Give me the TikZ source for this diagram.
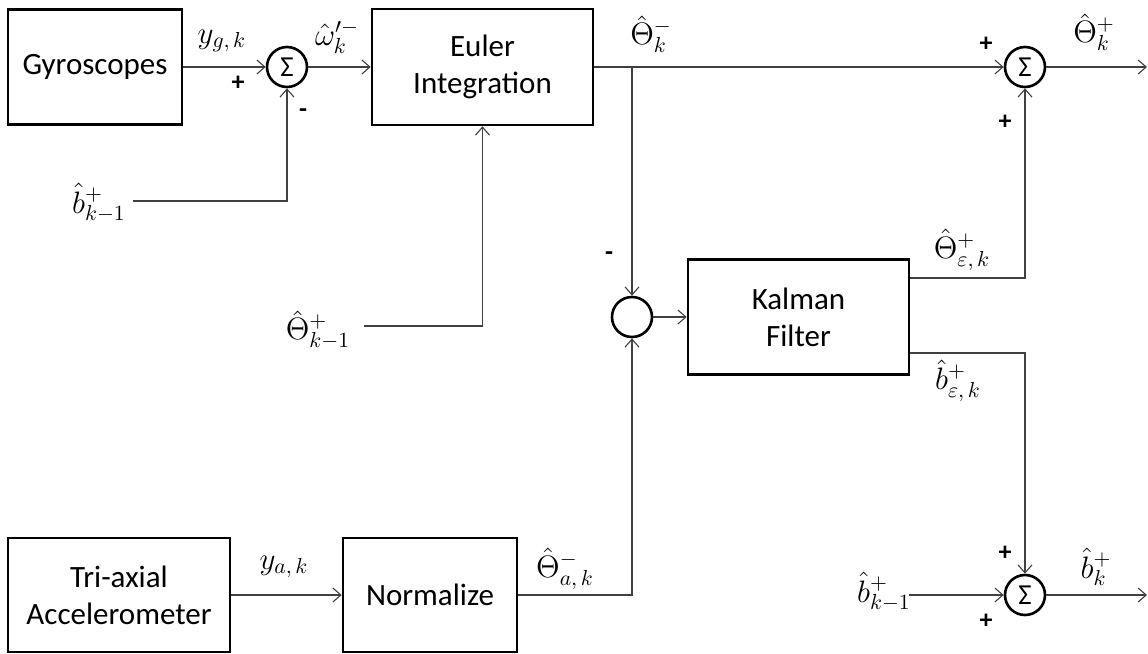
\documentclass[tikz,border=0pt]{standalone}
\usepackage{fix-cm}
\usepackage{fontspec}
\setmainfont{Carlito}
\usetikzlibrary{arrows.meta,calc}
\begin{document}
\begin{tikzpicture}[x=0.5pt,y=-0.5pt,
  blk/.style={draw=black,line width=1.3pt,fill=white,align=center,inner sep=0pt,
    font=\fontsize{15.5}{18.5}\selectfont},
  sumc/.style={draw=black,circle,line width=1.3pt,minimum size=20pt,inner sep=0pt,
    font=\fontsize{14.5}{16}\selectfont},
  conn/.style={draw=black!75,line width=0.55pt,-{Straight Barb[length=4pt,width=7pt]}},
  lab/.style={inner sep=0pt,font=\fontsize{15.5}{18}\selectfont},
  sgn/.style={inner sep=0pt,font=\fontsize{13}{15}\selectfont\bfseries}]
\useasboundingbox (0,0) rectangle (1148,654);
% blocks
\node[blk,minimum width=87pt,minimum height=57.5pt] (gyro) at (95,67) {Gyroscopes};
\node[blk,minimum width=110.5pt,minimum height=58pt] (euler) at (482.5,67) {Euler\\Integration};
\node[blk,minimum width=110.5pt,minimum height=57.5pt] (kalman) at (798.5,317) {Kalman\\Filter};
\node[blk,minimum width=111pt,minimum height=57pt] (accel) at (119,595) {Tri-axial\\Accelerometer};
\node[blk,minimum width=87pt,minimum height=57pt] (norm) at (430,595) {Normalize};
% summing junctions
\node[sumc] (s1) at (287,67) {Σ};
\node[sumc] (s2) at (1025,67) {Σ};
\node[sumc] (jn) at (632,317) {};
\node[sumc] (s3) at (1025,595) {Σ};
% free ends
\coordinate (b1in) at (133,201);
\coordinate (th1in) at (364,326);
\coordinate (out1) at (1147,67);
\coordinate (b3in) at (909,595);
\coordinate (out3) at (1147,595);
\coordinate (br) at (jn.north |- s2.west);
\coordinate (ko1) at ([yshift=19.5pt]kalman.east);
\coordinate (ko2) at ([yshift=-18pt]kalman.east);
% connectors
\draw[conn] (gyro.east) -- (s1.west);
\draw[conn] (b1in) -| (s1.south);
\draw[conn] (s1.east) -- (euler.west);
\draw[conn] (th1in) -| (euler.south);
\draw[conn] (euler.east) -- (s2.west);
\draw[conn] (br) -- (jn.north);
\draw[conn] (s2.east) -- (out1);
\draw[conn] (ko1) -| (s2.south);
\draw[conn] (ko2) -| (s3.north);
\draw[conn] (jn.east) -- (kalman.west);
\draw[conn] (accel.east) -- (norm.west);
\draw[conn] (norm.east) -| (jn.south);
\draw[conn] (b3in) -- (s3.west);
\draw[conn] (s3.east) -- (out3);
% labels
\node[lab] (lyg) at (222,41) {$y_{g,\,k}$};
\node[sgn] (p1) at (238,83) {+};
\node[sgn] (m1) at (303,113) {-};
\node[lab] (lb1) at (99,203) {$\hat{b}^{+}_{k-1}$};
\node[lab] (lom) at (337,37) {$\hat{\omega}'^{-}_{k}$};
\node[lab] (lthm) at (651,34) {$\hat{\Theta}^{-}_{k}$};
\node[sgn] (p2) at (986,44) {+};
\node[lab] (lthp) at (1094,32) {$\hat{\Theta}^{+}_{k}$};
\node[sgn] (p3) at (1005,122) {+};
\node[lab] (lth1) at (318,330) {$\hat{\Theta}^{+}_{k-1}$};
\node[sgn] (m2) at (609,256) {-};
\node[lab] (lthe) at (962,250) {$\hat{\Theta}^{+}_{\varepsilon,\,k}$};
\node[lab] (lbe) at (958,381) {$\hat{b}^{+}_{\varepsilon,\,k}$};
\node[lab] (lya) at (284,567) {$y_{a,\,k}$};
\node[lab] (ltha) at (565,569) {$\hat{\Theta}^{-}_{a,\,k}$};
\node[lab] (lb3) at (884,592) {$\hat{b}^{+}_{k-1}$};
\node[sgn] (p4) at (1005,553) {+};
\node[sgn] (p5) at (986,621) {+};
\node[lab] (lbk) at (1096,567) {$\hat{b}^{+}_{k}$};
\end{tikzpicture}
\end{document}
